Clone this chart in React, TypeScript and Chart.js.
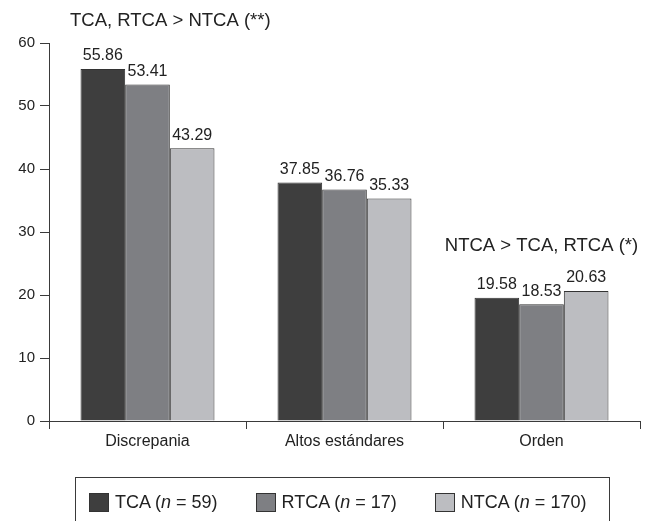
import React, { useEffect, useRef } from "react";
import { Chart, registerables } from "chart.js";

Chart.register(...registerables);

const categories = ["Discrepania", "Altos estándares", "Orden"];
const seriesNames = ["TCA", "RTCA", "NTCA"];
const seriesN = [59, 17, 170];
const tcaValues = [55.86, 37.85, 19.58];
const rtcaValues = [53.41, 36.76, 18.53];
const ntcaValues = [43.29, 35.33, 20.63];
const seriesColors = ["#3e3e3e", "#7e7f83", "#bcbdc1"];
const yMin = 0;
const yMax = 60;
const yStep = 10;
const noteTop = "TCA, RTCA > NTCA (**)";
const noteOrden = "NTCA > TCA, RTCA (*)";
const noteOrdenValue = 27.8;

const FONT = "'Liberation Sans', Arial, Helvetica, sans-serif";
const TEXT = "#222222";
const AXIS = "#3a3a3a";

const labelsPlugin = {
  id: "valueLabels",
  afterDatasetsDraw(chart: any) {
    const ctx = chart.ctx;
    ctx.save();
    ctx.font = `16px ${FONT}`;
    ctx.fillStyle = TEXT;
    ctx.textAlign = "center";
    ctx.textBaseline = "bottom";
    chart.data.datasets.forEach((ds: any, di: number) => {
      const meta = chart.getDatasetMeta(di);
      meta.data.forEach((bar: any, i: number) => {
        ctx.fillText(Number(ds.data[i]).toFixed(2), bar.x, bar.y - 5);
      });
    });
    ctx.font = `18.5px ${FONT}`;
    ctx.textBaseline = "middle";
    ctx.textAlign = "left";
    ctx.fillText(noteTop, chart.chartArea.left + 21, 21);
    const xs = chart.scales.x;
    const ys = chart.scales.y;
    ctx.textAlign = "center";
    ctx.fillText(noteOrden, xs.getPixelForValue(2), ys.getPixelForValue(noteOrdenValue));
    ctx.restore();
  },
};

export default function App() {
  const ref = useRef<HTMLCanvasElement>(null);
  useEffect(() => {
    if (!ref.current) return;
    const valueSets = [tcaValues, rtcaValues, ntcaValues];
    const chart = new Chart(ref.current, {
      type: "bar",
      data: {
        labels: categories,
        datasets: seriesNames.map((name, i) => ({
          label: name,
          data: valueSets[i],
          backgroundColor: seriesColors[i],
          borderColor: "#333333",
          borderWidth: 1,
          categoryPercentage: 0.68,
          barPercentage: 1.0,
        })),
      },
      options: {
        animation: false,
        responsive: false,
        devicePixelRatio: 1,
        layout: { padding: { left: 0, right: 10, top: 43, bottom: 0 } },
        plugins: {
          legend: { display: false },
          tooltip: { enabled: false },
          title: { display: false },
        },
        scales: {
          x: {
            grid: {
              offset: true,
              drawOnChartArea: false,
              drawTicks: true,
              tickLength: 8,
              color: AXIS,
              lineWidth: 1,
            },
            border: { display: true, color: AXIS, width: 1 },
            ticks: {
              color: TEXT,
              font: { family: FONT, size: 16 },
              padding: 3,
              maxRotation: 0,
            },
            afterFit(scale: any) {
              scale.height = 100;
            },
          },
          y: {
            min: yMin,
            max: yMax,
            grid: {
              drawOnChartArea: false,
              drawTicks: true,
              tickLength: 9,
              color: AXIS,
              lineWidth: 1,
            },
            border: { display: true, color: AXIS, width: 1 },
            ticks: {
              stepSize: yStep,
              color: TEXT,
              font: { family: FONT, size: 15 },
              padding: 5,
            },
            afterFit(scale: any) {
              scale.width = 49;
            },
          },
        },
      },
      plugins: [labelsPlugin],
    });
    return () => chart.destroy();
  }, []);

  return (
    <div
      style={{
        position: "absolute",
        left: 0,
        top: 0,
        width: 650,
        height: 521,
        overflow: "hidden",
        background: "#ffffff",
        fontFamily: FONT,
      }}
    >
      <canvas ref={ref} width={650} height={521} style={{ display: "block", width: 650, height: 521 }} />
      <div
        style={{
          position: "absolute",
          left: 75,
          top: 477,
          width: 535,
          height: 70,
          border: `1px solid ${AXIS}`,
          boxSizing: "border-box",
          paddingTop: 14,
          paddingLeft: 13,
          display: "block",
        }}
      >
        <div style={{ display: "flex", alignItems: "center", height: 20 }}>
          {seriesNames.map((name, i) => (
            <div key={name} style={{ display: "flex", alignItems: "center", marginRight: 38 }}>
              <span
                style={{
                  display: "inline-block",
                  width: 20,
                  height: 19,
                  boxSizing: "border-box",
                  background: seriesColors[i],
                  border: "1px solid #333",
                  marginRight: 6,
                }}
              />
              <span style={{ fontSize: 18, color: TEXT, whiteSpace: "nowrap", lineHeight: "20px" }}>
                {name} (<i>n</i> = {seriesN[i]})
              </span>
            </div>
          ))}
        </div>
      </div>
    </div>
  );
}
